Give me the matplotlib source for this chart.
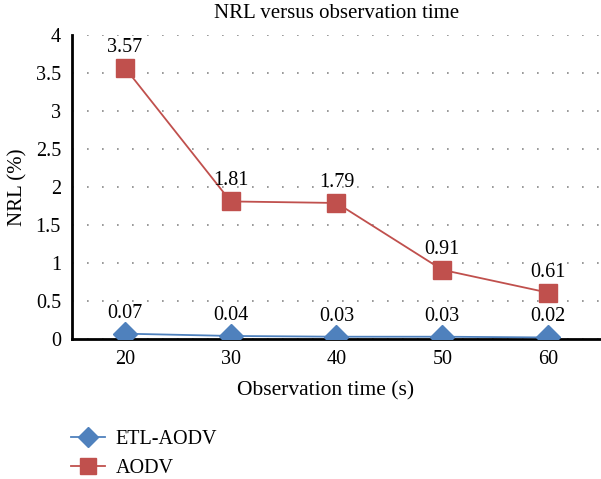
import numpy as np
import matplotlib.pyplot as plt

times = ["20", "30", "40", "50", "60"]
etl_aodv = [0.07, 0.04, 0.03, 0.03, 0.02]
aodv = [3.57, 1.81, 1.79, 0.91, 0.61]

plt.rcParams['font.family'] = ['Liberation Serif', 'DejaVu Serif']

fig = plt.figure(figsize=(6.01, 4.79), dpi=100)
ax = fig.add_axes([0.1198, 0.2923, 0.8802, 0.6346])

x = np.arange(len(times))
blue = '#4F81BD'
red = '#C0504D'

l1, = ax.plot(x, etl_aodv, color=blue, lw=1.3, marker='D', markersize=12,
              label='ETL-AODV', zorder=3)
l2, = ax.plot(x, aodv, color=red, lw=1.3, marker='s', markersize=13,
              label='AODV', zorder=3)

for xi, v in zip(x, etl_aodv):
    ax.annotate(f"{v:.2f}", (xi, v), xytext=(0, 8), textcoords='offset points',
                ha='center', va='bottom', fontsize=14.5)
for xi, v in zip(x, aodv):
    ax.annotate(f"{v:.2f}", (xi, v), xytext=(0, 8), textcoords='offset points',
                ha='center', va='bottom', fontsize=14.5)

ax.set_xlim(-0.5, 4.5)
ax.set_ylim(0, 4)
ax.set_yticks(np.arange(0, 4.01, 0.5))
ax.set_yticklabels(['0', '0.5', '1', '1.5', '2', '2.5', '3', '3.5', '4'])
ax.set_xticks(x)
ax.set_xticklabels(times)
ax.tick_params(length=0, labelsize=14.5, pad=8)
ax.yaxis.grid(True, linestyle=(0, (1, 8)), color='#888888', lw=1.2)
ax.set_axisbelow(True)
for s in ['top', 'right']:
    ax.spines[s].set_visible(False)
ax.spines['left'].set_linewidth(2)
ax.spines['bottom'].set_linewidth(2)

ax.set_title('NRL versus observation time', fontsize=15, pad=12)
ax.set_xlabel('Observation time (s)', fontsize=15.5, labelpad=9)
ax.xaxis.set_label_coords(0.48, -0.14)
ax.set_ylabel('NRL (%)', fontsize=15, labelpad=6)

fig.legend(handles=[l1, l2], loc='upper left', bbox_to_anchor=(0.105, 0.12),
           frameon=False, fontsize=14.5, handlelength=1.7, markerscale=0.85,
           labelspacing=0.5, handletextpad=0.5, borderaxespad=0)

fig.savefig('out.png', dpi=100)
